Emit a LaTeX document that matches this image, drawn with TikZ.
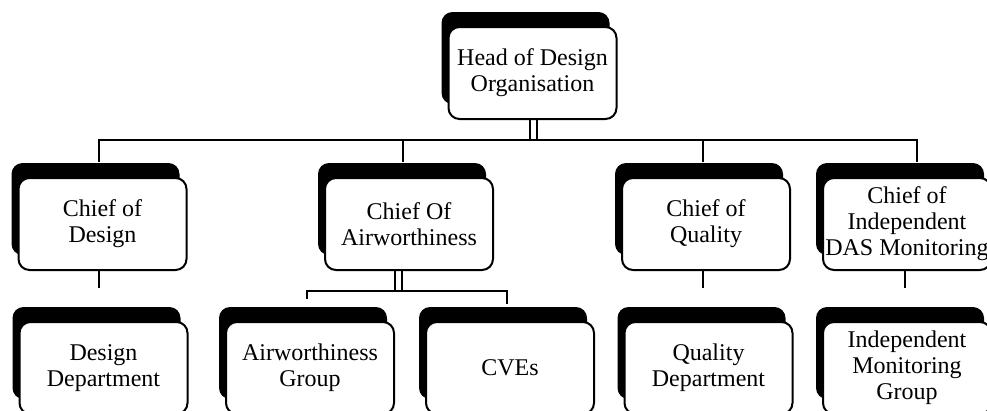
\documentclass[tikz,border=0pt]{standalone}
\usepackage{fontspec}
\setmainfont{Liberation Serif}
\usetikzlibrary{shadows, backgrounds}

\begin{document}
\begin{tikzpicture}[x=1pt, y=-1pt,
every node/.style = {align=center, font=\fontsize{24}{26}\selectfont},
unit/.style={draw, line width=2pt, fill=white, rounded corners=11pt,
  minimum width=168pt, minimum height=92pt, inner sep=0pt,
  general shadow={fill=black, shadow xshift=-7pt, shadow yshift=15pt}},
link/.style={draw, line width=2pt},
dlink/.style={draw, line width=2pt, double, double distance=5pt}]
%
\useasboundingbox (0,0) rectangle (987,410);
\clip (0,0) rectangle (987,410);
\node[unit] (head) at (532.5,73) {Head of Design\\Organisation};
\node[unit] (cd) at (102.5,224) {Chief of\\Design};
\node[unit] (ca) at (409,224) {Chief Of\\Airworthiness};
\node[unit] (cq) at (706,224) {Chief of\\Quality};
\node[unit] (ci) at (907,224) {Chief of\\Independent\\DAS Monitoring};
\node[unit] (dd) at (103.5,368) {Design\\Department};
\node[unit] (ag) at (310,368) {Airworthiness\\Group};
\node[unit] (cve) at (510,368) {CVEs};
\node[unit] (qd) at (708.5,368) {Quality\\Department};
\node[unit] (img) at (907,368) {Independent\\Monitoring\\Group};
\coordinate (hb) at (533.5,140);
\coordinate (ab) at (398.7,291);
%
\begin{scope}[on background layer]
\draw[dlink] (head.south -| hb) -- (hb);
\draw[link] ([xshift=-3.5pt,yshift=15pt]cd.north) |- (hb) -| ([xshift=10pt,yshift=15pt]ci.north);
\draw[link] ([xshift=-6pt,yshift=15pt]ca.north) |- (hb);
\draw[link] ([xshift=-3pt,yshift=15pt]cq.north) |- (hb);
\draw[dlink] (ca.south -| ab) -- (ab);
\draw[link] ([xshift=-3pt,yshift=22pt]ag.north) |- (ab) -| ([xshift=-3pt,yshift=17pt]cve.north);
\draw[link] ([xshift=-3.5pt]cd.south) -- ([xshift=-4.5pt,yshift=33pt]dd.north);
\draw[link] ([xshift=-3pt]cq.south) -- ([xshift=-5.5pt,yshift=33pt]qd.north);
\draw[link] ([xshift=-2pt]ci.south) -- ([xshift=-2pt,yshift=33pt]img.north);
\end{scope}
\end{tikzpicture}
\end{document}
